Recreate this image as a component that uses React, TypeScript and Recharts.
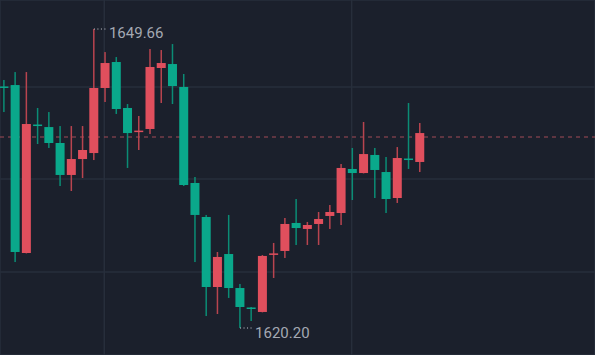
import { ComposedChart, Bar, XAxis, YAxis, CartesianGrid, ReferenceLine } from "recharts";

// price data (open / high / low / close per candle)
const opens = [
  1644.0, 1644.14, 1627.59, 1640.25, 1640.0, 1638.43, 1635.28, 1636.85, 1637.44, 1643.85,
  1646.41, 1641.88, 1639.55, 1639.81, 1645.82, 1646.21, 1643.95, 1634.49, 1631.14, 1624.24,
  1627.49, 1624.14, 1622.22, 1621.78, 1627.45, 1627.79, 1630.55, 1629.96, 1630.45, 1631.24,
  1631.53, 1635.87, 1635.47, 1637.25, 1635.57, 1633.01, 1636.9, 1636.56,
];
const highs = [
  1644.64, 1645.42, 1645.42, 1641.88, 1641.48, 1640.1, 1640.1, 1640.1, 1649.66, 1647.39,
  1646.9, 1642.27, 1641.09, 1647.69, 1647.59, 1648.18, 1645.23, 1635.08, 1631.34, 1627.69,
  1631.34, 1624.54, 1622.27, 1627.39, 1628.58, 1631.04, 1632.91, 1630.65, 1631.63, 1632.32,
  1636.36, 1637.94, 1640.5, 1637.94, 1637.05, 1638.03, 1642.37, 1640.4,
];
const lows = [
  1641.48, 1626.7, 1627.55, 1638.33, 1637.94, 1634.19, 1633.7, 1634.98, 1636.75, 1642.47,
  1641.29, 1635.97, 1637.74, 1639.32, 1642.37, 1642.27, 1634.19, 1626.7, 1621.38, 1621.58,
  1623.16, 1620.2, 1620.89, 1621.74, 1625.13, 1627.1, 1628.38, 1628.38, 1628.38, 1629.96,
  1630.35, 1632.81, 1635.43, 1633.01, 1631.53, 1632.52, 1635.87, 1635.57,
];
const closes = [
  1643.88, 1627.69, 1640.3, 1640.1, 1638.43, 1635.28, 1636.85, 1637.74, 1643.85, 1646.31,
  1641.78, 1639.41, 1639.65, 1645.92, 1646.31, 1644.04, 1634.29, 1631.34, 1624.24, 1627.2,
  1624.14, 1622.27, 1622.12, 1627.3, 1627.55, 1630.45, 1630.05, 1630.35, 1630.94, 1631.63,
  1635.97, 1635.47, 1637.34, 1635.77, 1632.91, 1636.95, 1636.75, 1639.41,
];

const lastPrice = 1639.02;
const highMark = { index: 8, price: 1649.66, label: "1649.66" };
const lowMark = { index: 21, price: 1620.2, label: "1620.20" };
const priceGrid = [1643.95, 1634.88, 1625.72];
const timeGrid = [8.92, 30.93];

const UP = "#e04f5d";
const DOWN = "#0aa88b";
const UP_WICK = "#b8444f";
const DOWN_WICK = "#0b8c75";

const data = opens.map((open, i) => ({
  index: i,
  open,
  close: closes[i],
  high: highs[i],
  low: lows[i],
  range: [lows[i], highs[i]],
}));

function Candle(props: any) {
  const { x, y, width, height, payload } = props;
  const { open, close, high, low } = payload;
  const up = close >= open;
  const ratio = height / (high - low);
  const top = y + (high - Math.max(open, close)) * ratio;
  const bh = Math.max(Math.abs(open - close) * ratio, 1.5);
  const cx = x + width / 2;
  return (
    <g>
      <rect x={cx - 0.75} y={y} width={1.5} height={height} fill={up ? UP_WICK : DOWN_WICK} />
      <rect x={x} y={top} width={width} height={bh} fill={up ? UP : DOWN} />
    </g>
  );
}

const labelStyle = { fill: "#a4a9b3", fontSize: 15, fontFamily: "Roboto, sans-serif" };

export default function App() {
  return (
    <div style={{ width: 595, height: 355, background: "#1b202c" }}>
      <style>{"body{margin:0}"}</style>
      <ComposedChart width={595} height={355} data={data} margin={{ top: 0, right: 0, bottom: 0, left: 0 }}>
        <CartesianGrid stroke="#272e3b" strokeWidth={1.5} />
        <XAxis
          dataKey="index"
          type="number"
          domain={[-0.356, 52.58]}
          allowDataOverflow
          ticks={timeGrid}
          hide
        />
        <YAxis type="number" domain={[1617.54, 1652.52]} allowDataOverflow ticks={priceGrid} hide />
        {/* last price line sits behind the candles */}
        <ReferenceLine y={lastPrice} stroke="#a34a57" strokeDasharray="4 4" strokeWidth={1} zIndex={50} />
        <Bar dataKey="range" barSize={9} shape={<Candle />} isAnimationActive={false} />
        <ReferenceLine
          segment={[
            { x: highMark.index, y: highMark.price },
            { x: highMark.index + 1.07, y: highMark.price },
          ]}
          stroke="#c9ccd3"
          strokeDasharray="1 2.5"
          ifOverflow="visible"
          label={{ value: highMark.label, position: "right", offset: 3, dy: 4, ...labelStyle }}
        />
        <ReferenceLine
          segment={[
            { x: lowMark.index, y: lowMark.price },
            { x: lowMark.index + 1.07, y: lowMark.price },
          ]}
          stroke="#c9ccd3"
          strokeDasharray="1 2.5"
          ifOverflow="visible"
          label={{ value: lowMark.label, position: "right", offset: 3, dy: 5, ...labelStyle }}
        />
      </ComposedChart>
    </div>
  );
}
